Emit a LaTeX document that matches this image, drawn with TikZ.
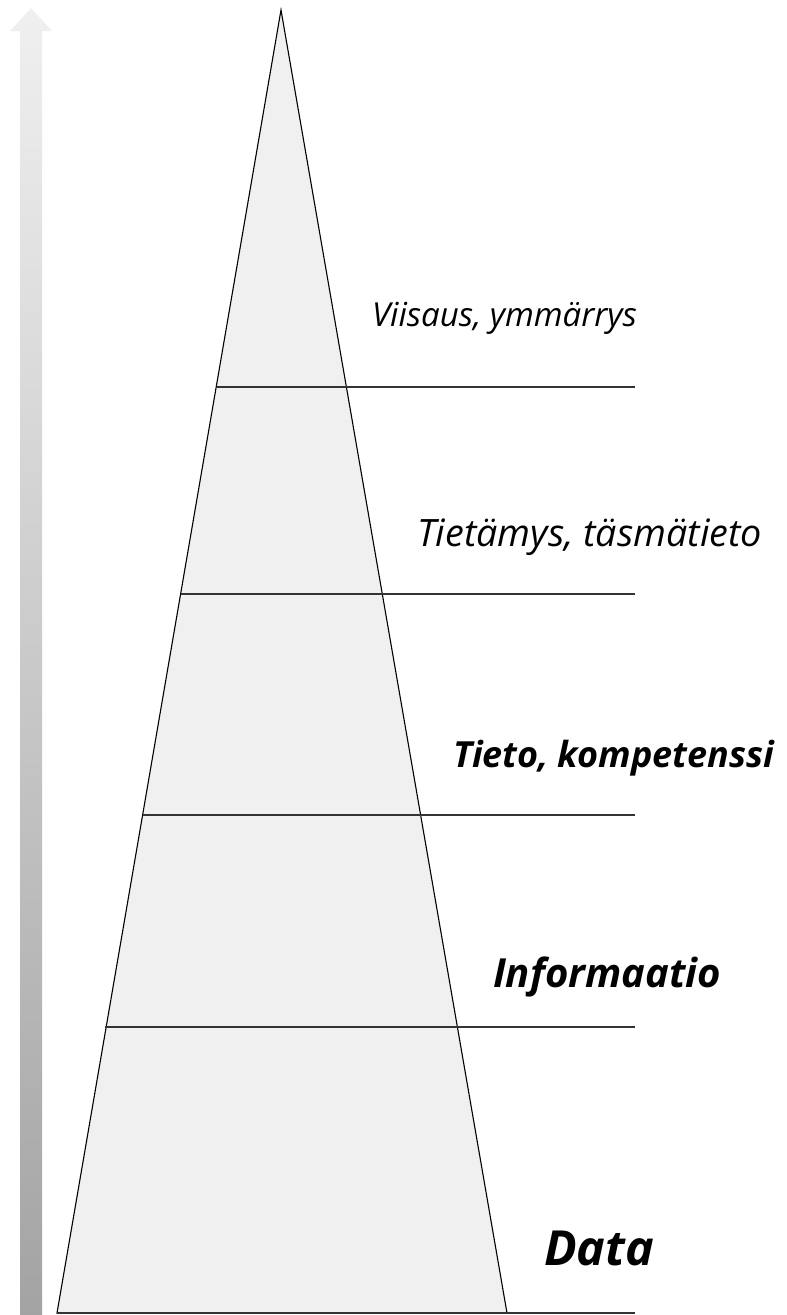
\documentclass[tikz,border=0pt]{standalone}
\usepackage{fontspec}
\usepackage{graphicx}
\setmainfont{Open Sans}
\begin{document}
\begin{tikzpicture}[x=1pt,y=-1pt,
  level/.style={draw=black!80, line width=1.3pt},
  lbl/.style={anchor=base west, inner sep=0pt, outer sep=0pt, font=\itshape},
  lblb/.style={anchor=base west, inner sep=0pt, outer sep=0pt, font=\bfseries\itshape}]
\useasboundingbox (0,0) rectangle (787,1315);
% gradient arrow
\shade[top color=black!6, bottom color=black!36]
  (31,8) -- (52,31) -- (42,31) -- (42,1315) -- (20,1315) -- (20,31) -- (10,31) -- cycle;
% pyramid
\coordinate (apex) at (281,10);
\coordinate (bl) at (57,1313);
\coordinate (br) at (507,1313);
\filldraw[fill=black!6, draw=black, line width=1.1pt] (apex) -- (bl) -- (br) -- cycle;
% level lines
\coordinate (l1a) at (217,387);  \coordinate (l1b) at (635,387);
\coordinate (l2a) at (181,594);  \coordinate (l2b) at (635,594);
\coordinate (l3a) at (143,815);  \coordinate (l3b) at (635,815);
\coordinate (l4a) at (105,1027); \coordinate (l4b) at (635,1027);
\coordinate (l5b) at (635,1313);
\draw[level] (l1a) -- (l1b);
\draw[level] (l2a) -- (l2b);
\draw[level] (l3a) -- (l3b);
\draw[level] (l4a) -- (l4b);
\draw[level] (bl) -- (l5b);
% labels
\node[lbl] (t1) at (372,326) {\resizebox{265pt}{!}{Viisaus, ymmärrys}};
\node[lbl] (t2) at (417,546) {\resizebox{345pt}{!}{Tietämys, täsmätieto}};
\node[lblb] (t3) at (453,767) {\resizebox{321pt}{!}{Tieto, kompetenssi}};
\node[lblb] (t4) at (493,987) {\resizebox{228pt}{!}{Informaatio}};
\node[lblb] (t5) at (544,1265) {\resizebox{110pt}{!}{Data}};
\end{tikzpicture}
\end{document}
